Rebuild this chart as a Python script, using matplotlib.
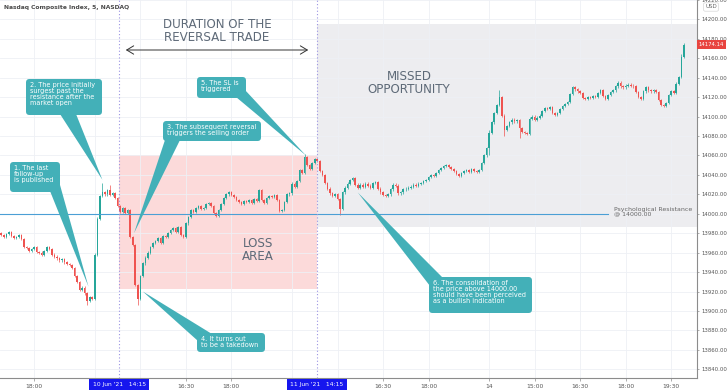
import matplotlib
matplotlib.use("Agg")
import matplotlib.pyplot as plt
from matplotlib.patches import Rectangle, Polygon, FancyBboxPatch
from matplotlib.transforms import IdentityTransform

# 5-minute closes, Nasdaq Composite, 9 Jun (late) -> 14 Jun 2021 (one value per candle)
closes = [
    13978, 13976, 13979, 13981, 13977, 13975, 13976, 13978, 13974, 13966,
    13965, 13962, 13964, 13966, 13961, 13960, 13958, 13962, 13966, 13964,
    13958, 13956, 13954, 13952, 13953, 13950, 13948, 13947, 13944,
    13936, 13930, 13922, 13924, 13918, 13910, 13914, 13912,
    13958, 13995, 14018, 14022, 14020, 14024, 14019, 14021, 14016,
    14008, 14002, 14006, 14001, 14004, 13976, 13968, 13927, 13912,
    13936, 13949, 13955, 13960, 13966, 13970, 13972, 13975, 13970, 13977, 13976,
    13980, 13983, 13985, 13981, 13986, 13978, 13976, 13990,
    13997, 14004, 14002, 14006, 14008, 14005, 14006, 14010, 14011, 14008,
    14001, 13998, 14004, 14010, 14016, 14020, 14022, 14019,
    14017, 14014, 14012, 14010, 14013, 14012, 14014, 14011, 14015, 14013,
    14024, 14014, 14011, 14016, 14018, 14017, 14019, 14014, 14003, 14004,
    14012, 14020, 14021,
    14031, 14028, 14034, 14045, 14042, 14058, 14050, 14046, 14052, 14056, 14054,
    14044, 14040, 14032, 14026, 14021, 14018, 14020, 14015, 14005, 14022, 14027,
    14031, 14035, 14037, 14030, 14027, 14030, 14028, 14031, 14029, 14027, 14032, 14033,
    14026, 14022, 14019, 14018, 14020, 14025, 14030, 14029, 14021, 14022,
    14025, 14026, 14027, 14028, 14030, 14029, 14031, 14032, 14034, 14035,
    14038, 14040, 14039, 14042, 14045, 14047, 14049, 14050, 14048,
    14046, 14044, 14041, 14039, 14042, 14044, 14045, 14043, 14046, 14044, 14043, 14045,
    14052, 14060, 14068,
    14083, 14094, 14104, 14112, 14120, 14101, 14086, 14090, 14094, 14097, 14095, 14096,
    14088, 14084, 14083, 14082, 14098, 14100, 14097, 14099, 14101, 14106,
    14109, 14108, 14110, 14104, 14102, 14104, 14108, 14111, 14113, 14115, 14123, 14130,
    14128, 14126, 14124, 14119, 14118, 14120, 14119, 14121, 14120, 14124, 14127,
    14121, 14118, 14122, 14125, 14127, 14131, 14135, 14131, 14130, 14132,
    14133, 14132, 14131, 14125, 14120, 14118, 14126, 14130, 14127, 14126, 14127, 14125,
    14117, 14112, 14111, 14114, 14122, 14126, 14124, 14134, 14141, 14161, 14174.14,
]
first_open = 13980
# notable wicks (candle index -> price)
wick_highs = {40: 14032, 43: 14030, 120: 14062, 197: 14127, 193: 14086, 269: 14164}
wick_lows = {34: 13906, 54: 13906, 134: 13999, 205: 14078, 193: 14060, 199: 14080}

tick_pos = [13, 37, 55, 73, 91, 115, 133, 151, 169, 193, 211, 229, 247, 265]
tick_lab = ["18:00", "10", "15:00", "16:30", "18:00", "11", "15:00", "16:30",
            "18:00", "14", "15:00", "16:30", "18:00", "19:30"]
price_ticks = list(range(13840, 14221, 20))

entry_k, exit_k = 46.6, 124.8
entry_lab, exit_lab = "10 Jun '21   14:15", "11 Jun '21   14:15"
resistance = 14000.00
last_price = 14174.14
loss_top, loss_bottom = 14060, 13923
missed_top, missed_bottom = 14195, 13986

W, H = 728, 391
fig = plt.figure(figsize=(W / 100, H / 100), dpi=100)
ax = fig.add_axes([0, 13 / H, 697 / W, 1 - 13 / H])
ax.set_xlim(-0.5, 275.2)
ax.set_ylim(13831, 14220)

ax.set_axisbelow(True)
ax.grid(color="#eef0f5", lw=0.6)
for s in ["top", "left"]:
    ax.spines[s].set_visible(False)
for s in ["right", "bottom"]:
    ax.spines[s].set_color("#8c8c8c")
    ax.spines[s].set_linewidth(0.8)

ax.yaxis.tick_right()
ax.set_yticks(price_ticks)
ax.set_yticklabels(["%.2f" % p for p in price_ticks])
ax.set_xticks(tick_pos)
ax.set_xticklabels(tick_lab)
ax.tick_params(axis="x", labelsize=4.3, colors="#8c8c8c", labelcolor="#555555",
               length=2, width=0.5, pad=2.5)
ax.tick_params(axis="y", labelsize=3.9, colors="#8c8c8c", labelcolor="#555555",
               length=1.5, width=0.5, pad=1.8)

# shaded areas
ax.add_patch(Rectangle((entry_k, loss_bottom), exit_k - entry_k, loss_top - loss_bottom,
                       fc="#fcdada", ec="none", zorder=0.5))
ax.add_patch(Rectangle((exit_k, missed_bottom), 275.2 - exit_k, missed_top - missed_bottom,
                       fc="#ededf0", ec="none", zorder=0.5))

# candles
up_c, dn_c = "#26a69a", "#ef5350"
prev = first_open
for k, c in enumerate(closes):
    o = prev
    col = up_c if c >= o else dn_c
    hi = wick_highs.get(k, max(o, c) + 1.2)
    lo = wick_lows.get(k, min(o, c) - 1.2)
    ax.vlines(k, lo, hi, color=col, lw=0.5, zorder=2)
    body = max(abs(c - o), 0.8)
    ax.bar(k, body, bottom=min(o, c), width=0.62, color=col, lw=0, zorder=3)
    prev = c

ax.plot([-0.5, 240], [resistance, resistance], color="#4b9fd5", lw=0.8, zorder=4)
for xk in (entry_k, exit_k):
    ax.axvline(xk, color="#9b93e3", lw=0.8, ls=(0, (1, 2)), zorder=4)

ax.text(242.5, resistance + 2, "Psychological Resistance\n@ %.2f" % resistance,
        fontsize=4.5, color="#666666", va="center", ha="left", linespacing=0.95)

# date boxes on the time axis
for xk, lab in ((entry_k, entry_lab), (exit_k, exit_lab)):
    ax.annotate(lab, xy=(xk, 0), xycoords=("data", "axes fraction"),
                xytext=(0, -4.6), textcoords="offset points", ha="center", va="center",
                fontsize=4.3, color="white", zorder=10, annotation_clip=False,
                bbox=dict(boxstyle="square,pad=0.55", fc="#1616ee", ec="none"))

# last price tag
ax.annotate("%.2f" % last_price, xy=(1, last_price), xycoords=("axes fraction", "data"),
            xytext=(1.2, 0), textcoords="offset points", ha="left", va="center",
            fontsize=3.9, color="white", zorder=10, annotation_clip=False,
            bbox=dict(boxstyle="square,pad=0.35", fc="#e8443f", ec="none"))

fig.text(711 / W, 1 - 7 / H, "USD", fontsize=4.0, color="#666666", ha="center", va="center",
         bbox=dict(boxstyle="round,pad=0.3,rounding_size=0.3", fc="white", ec="#cccccc", lw=0.4))

fig.text(4 / W, 1 - 7 / H, "Nasdaq Composite Index, 5, NASDAQ", fontsize=4.3,
         fontweight="bold", color="#4a4a4a", va="center", ha="left")

# headline texts
head_c = "#5e6a78"
ax.text(217 / 697, 1 - 31 / 378, "DURATION OF THE\nREVERSAL TRADE", transform=ax.transAxes,
        fontsize=8.6, color=head_c, ha="center", va="center", linespacing=1.05)
ax.text(409 / 697, 1 - 83 / 378, "MISSED\nOPPORTUNITY", transform=ax.transAxes,
        fontsize=8.6, color=head_c, ha="center", va="center", linespacing=1.05)
ax.text(258 / 697, 1 - 250 / 378, "LOSS\nAREA", transform=ax.transAxes,
        fontsize=8.6, color=head_c, ha="center", va="center", linespacing=1.05)

ax.annotate("", xy=(123 / 697, 1 - 50 / 378), xycoords="axes fraction",
            xytext=(311 / 697, 1 - 50 / 378), textcoords="axes fraction",
            arrowprops=dict(arrowstyle="<->,head_length=0.5,head_width=0.3", color="#333333", lw=0.7))

# callouts
teal = "#43b0b8"
fig.canvas.draw()


def px(x, y):
    return (x, H - y)


def callout(text, box, b1, b2, tip):
    x0, y0, x1, y1 = box
    tip_d = ax.transData.transform(tip)
    poly = Polygon([px(*b1), px(*b2), tip_d], closed=True, fc=teal, ec="none",
                   transform=IdentityTransform(), zorder=20)
    fig.add_artist(poly)
    bb = FancyBboxPatch(px(x0, y1), x1 - x0, y1 - y0,
                        boxstyle="round,pad=0,rounding_size=3.5", fc=teal, ec="none",
                        transform=IdentityTransform(), zorder=21)
    fig.add_artist(bb)
    fig.text((x0 + 4) / W, 1 - (y0 + 3) / H, text, fontsize=4.7, color="white",
             ha="left", va="top", linespacing=1.0, zorder=22)


callout("1. The last\nfollow-up\nis published", (10, 162, 60, 192),
        (50, 191), (60, 185), (34.5, 13925))
callout("2. The price initially\nsurgest past the\nresistance after the\nmarket open",
        (26, 79, 102, 115), (60, 114), (76, 114), (40, 14035))
callout("3. The subsequent reversal\ntriggers the selling order", (163, 121, 261, 141),
        (165, 140), (180, 140), (52.5, 13980))
callout("4. It turns out\nto be a takedown", (197, 333, 265, 352),
        (198, 341), (212, 334), (56, 13920))
callout("5. The SL is\ntriggered", (197, 77, 246, 98),
        (236, 97), (245, 90), (120.5, 14060))
callout("6. The consolidation of\nthe price above 14000.00\nshould have been perceived\nas a bullish indication",
        (429, 277, 532, 313), (430, 286), (443, 278), (141, 14022))

fig.savefig("out.png", dpi=100)
